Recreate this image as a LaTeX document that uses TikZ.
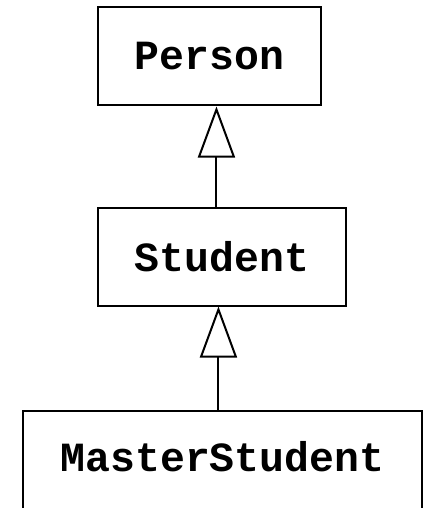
\documentclass[tikz,border=0pt]{standalone}
\usepackage{fontspec}
\newfontfamily\umlfont{Liberation Mono}
\usetikzlibrary{
  positioning,
  arrows.meta
}

\begin{document}
\begin{tikzpicture}[
    x=1pt,y=1pt,
    umlClass/.style={draw,line width=2pt,fill=white,minimum height=98pt,inner xsep=37pt,font=\umlfont\bfseries\fontsize{41.5}{48}\selectfont},
    inherits/.style={draw,line width=2pt,-{Triangle[open,width=37pt,length=51pt,line width=2pt]}}
  ]
    \useasboundingbox (0,0) rectangle (427,-508);

    % class hierarchy
    \node[umlClass] (person) at (209.5,-56.5) {Person};
    \node[umlClass, below right=100pt and 0pt of person.south west] (student) {Student};
    \node[umlClass, below=103pt of student.south, anchor=north, xshift=0.5pt, minimum height=104pt, inner xsep=38pt, text depth=12pt] (master) {MasterStudent};

    % generalisations
    \draw[inherits] ([xshift=-5.5pt]student.north) -- ([xshift=-5.5pt]student.north |- person.south);
    \draw[inherits] ([xshift=-4pt]master.north) -- ([xshift=-4pt]master.north |- student.south);
\end{tikzpicture}
\end{document}
